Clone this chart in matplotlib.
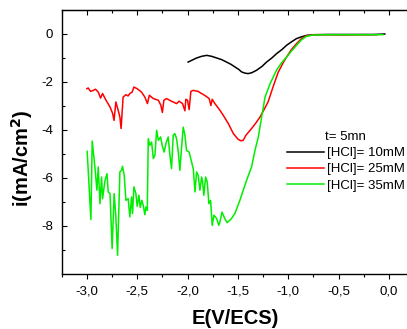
import matplotlib
matplotlib.use("Agg")
import matplotlib.pyplot as plt
from matplotlib.ticker import MultipleLocator, FixedLocator, FuncFormatter

plt.rcParams['font.family'] = ['Liberation Sans', 'DejaVu Sans']

# [HCl] = 10 mM
e10 = [-1.994, -1.95, -1.91, -1.86, -1.81, -1.76, -1.71, -1.66, -1.612, -1.57, -1.53, -1.49,
       -1.463, -1.43, -1.397, -1.36, -1.314, -1.26, -1.215, -1.16, -1.116, -1.06, -1.016,
       -0.965, -0.917, -0.87, -0.82, -0.75, -0.6, -0.45, -0.3, -0.15, -0.04]
i10 = [-1.17, -1.08, -1.0, -0.93, -0.89, -0.93, -1.0, -1.07, -1.17, -1.26, -1.37, -1.48,
       -1.58, -1.63, -1.65, -1.61, -1.51, -1.35, -1.17, -0.99, -0.82, -0.64, -0.47,
       -0.32, -0.19, -0.12, -0.06, -0.03, -0.02, -0.02, -0.02, -0.02, 0.0]

# [HCl] = 25 mM
e25 = [-3.0, -2.987, -2.963, -2.937, -2.914, -2.887, -2.864, -2.844, -2.81, -2.77, -2.745,
       -2.73, -2.712, -2.689, -2.672, -2.66, -2.64, -2.613, -2.59, -2.573, -2.55, -2.533,
       -2.5, -2.457, -2.424, -2.398, -2.38, -2.34, -2.29, -2.265, -2.25, -2.235, -2.208,
       -2.16, -2.109, -2.083, -2.05, -2.026, -2.017, -2.0, -1.984, -1.967, -1.944, -1.894,
       -1.877, -1.828, -1.785, -1.768, -1.755, -1.728, -1.678, -1.645, -1.595, -1.545,
       -1.497, -1.47, -1.447, -1.42, -1.364, -1.32, -1.28, -1.24, -1.2, -1.15, -1.1,
       -1.05, -1.016, -0.97, -0.917, -0.87, -0.82, -0.75, -0.6, -0.45, -0.3, -0.12]
i25 = [-2.28, -2.25, -2.39, -2.35, -2.30, -2.42, -2.67, -2.48, -2.76, -3.04, -3.3,
       -3.6, -2.83, -3.18, -3.46, -3.94, -2.63, -2.53, -2.58, -2.48, -2.42, -2.21,
       -2.28, -2.42, -2.63, -2.9, -2.55, -2.69, -2.76, -2.97, -3.27, -2.76, -2.69,
       -2.8, -2.9, -2.8, -2.9, -3.2, -2.72, -2.76, -3.15, -2.39, -2.35, -2.39,
       -2.44, -2.56, -2.69, -2.98, -2.72, -2.9, -3.18, -3.39, -3.73, -4.15,
       -4.39, -4.45, -4.43, -4.22, -3.94, -3.7, -3.46, -3.15, -2.83, -2.2, -1.6,
       -1.2, -0.96, -0.66, -0.4, -0.2, -0.08, -0.03, -0.03, -0.04, -0.03, -0.03]

# [HCl] = 35 mM
e35 = [-2.997, -2.96, -2.947, -2.92, -2.90, -2.887, -2.87, -2.854, -2.844, -2.82, -2.80,
       -2.788, -2.77, -2.749, -2.729, -2.712, -2.695, -2.672, -2.656, -2.646, -2.629,
       -2.612, -2.59, -2.573, -2.556, -2.546, -2.533, -2.513, -2.50, -2.483, -2.47,
       -2.454, -2.44, -2.424, -2.414, -2.40, -2.39, -2.374, -2.357, -2.34, -2.324,
       -2.307, -2.29, -2.268, -2.248, -2.232, -2.215, -2.192, -2.175, -2.159, -2.142,
       -2.126, -2.109, -2.09, -2.076, -2.06, -2.043, -2.026, -2.01, -1.984, -1.96,
       -1.943, -1.926, -1.91, -1.894, -1.877, -1.86, -1.85, -1.838, -1.82, -1.804,
       -1.788, -1.771, -1.755, -1.738, -1.71, -1.69, -1.678, -1.658, -1.63, -1.606,
       -1.563, -1.53, -1.48, -1.414, -1.364, -1.33, -1.297, -1.264, -1.23, -1.18,
       -1.116, -1.066, -1.016, -0.965, -0.917, -0.87, -0.82, -0.75, -0.6, -0.45,
       -0.3, -0.15, -0.06]
i35 = [-4.89, -7.73, -4.46, -5.54, -6.51, -5.54, -7.07, -5.96, -6.86, -6.1, -5.82,
       -6.58, -6.65, -8.94, -6.65, -7.62, -9.22, -5.75, -5.68, -5.51, -5.89,
       -6.93, -6.86, -7.62, -6.79, -7.48, -6.37, -6.65, -7.18, -6.72, -7.23,
       -6.93, -7.14, -7.53, -7.21, -7.35, -4.36, -4.64, -4.5, -5.19, -5.05,
       -4.01, -4.43, -4.29, -4.71, -4.92, -4.57, -4.29, -5.05, -5.61, -4.22,
       -4.15, -4.36, -4.98, -5.68, -4.78, -3.88, -4.22, -4.85, -4.92, -5.33,
       -5.61, -6.58, -5.75, -5.89, -6.51, -5.96, -6.17, -6.72, -5.96, -6.17,
       -7.07, -6.93, -7.97, -7.55, -7.69, -7.97, -7.83, -7.42, -7.69, -7.86,
       -7.69, -7.48, -6.93, -6.1, -5.54, -4.85, -4.29, -3.46, -2.63, -2.07,
       -1.51, -1.2, -0.96, -0.7, -0.47, -0.25, -0.1, -0.04, -0.03, -0.03,
       -0.03, -0.03, -0.03]

labels = ['[HCl]= 10mM', '[HCl]= 25mM', '[HCl]= 35mM']
colors = ['black', 'red', '#00ee00']
yticks = [0, -2, -4, -6, -8]
yminor = [-9, -7, -5, -3, -1]

fig = plt.figure(figsize=(4.07, 3.29), dpi=100)
ax = fig.add_axes([61.7/407, 1 - 274/329, (409 - 61.7)/407, 264/329])

for e, i, lab, c in zip([e10, e25, e35], [i10, i25, i35], labels, colors):
    ax.plot(e, i, color=c, lw=1.1, label=lab)

ax.set_xlim(-3.25, 0.2)
ax.set_ylim(-10, 1)
ax.xaxis.set_major_locator(MultipleLocator(0.5))
ax.xaxis.set_minor_locator(MultipleLocator(0.25))
ax.yaxis.set_major_locator(FixedLocator(yticks))
ax.yaxis.set_minor_locator(FixedLocator(yminor))
ax.xaxis.set_major_formatter(FuncFormatter(lambda v, p: f"{round(v, 1) + 0.0:.1f}".replace('.', ',')))
ax.yaxis.set_major_formatter(FuncFormatter(lambda v, p: f"{int(round(v))}"))

ax.tick_params(axis='x', which='both', direction='out', labelsize=9.5, pad=5)
ax.tick_params(axis='y', which='both', direction='in', labelsize=9.5, pad=6)
ax.tick_params(which='major', length=3.5, width=0.8)
ax.tick_params(which='minor', length=2, width=0.8)
for s in ax.spines.values():
    s.set_linewidth(1.0)

top = ax.secondary_xaxis('top')
top.xaxis.set_major_locator(MultipleLocator(0.5))
top.xaxis.set_minor_locator(MultipleLocator(0.25))
top.tick_params(which='both', direction='in', labeltop=False, width=0.8)
top.tick_params(which='major', length=3.5)
top.tick_params(which='minor', length=2)

ax.set_xlabel('E(V/ECS)', fontsize=14.5, fontweight='bold', labelpad=8)
ax.set_ylabel('i(mA/cm$^\\mathbf{2}$)', fontsize=14.5, fontweight='bold')
ax.yaxis.set_label_coords(-0.077, 0.44)

fig.text(325/407, 1 - 136.7/329, 't= 5mn', fontsize=9.5, va='center', ha='left')
ax.legend(loc='center left', bbox_to_anchor=(287/407, 1 - 169.3/329),
          bbox_transform=fig.transFigure, frameon=False, fontsize=9.5,
          handlelength=2.8, handletextpad=0.25, labelspacing=0.3,
          borderpad=0, borderaxespad=0)

fig.savefig('out.png', dpi=100)
